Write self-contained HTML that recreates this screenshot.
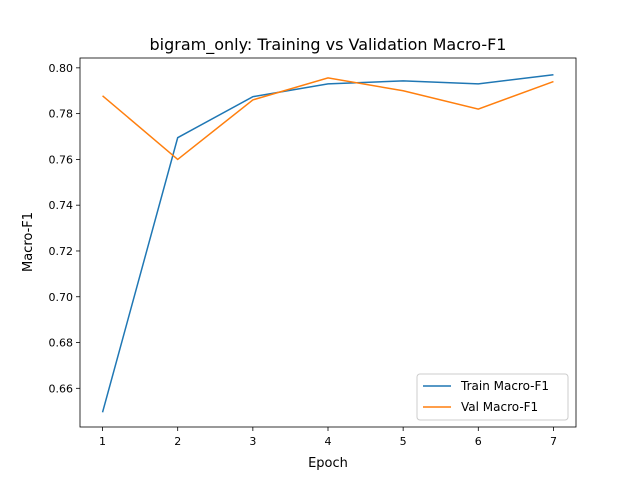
<!DOCTYPE html>
<html><head><meta charset="utf-8"><style>
body{margin:0;background:#fff;font-family:"Liberation Sans","DejaVu Sans",sans-serif}
svg text{font-family:"DejaVu Sans","Liberation Sans",sans-serif}
</style></head><body>
<svg id="chart" width="640" height="480">
<rect width="640" height="480" fill="#fff"/>
<text x="328" y="50" font-size="16" text-anchor="middle">bigram_only: Training vs Validation Macro-F1</text>
<g id="axes"></g>
<text x="328" y="467" font-size="13" text-anchor="middle">Epoch</text>
<text x="0" y="0" font-size="13" text-anchor="middle" transform="translate(32,242) rotate(-90)">Macro-F1</text>
</svg>
<script>
const epochs=[1,2,3,4,5,6,7];
const trainF1=[0.6495,0.7695,0.7874,0.7930,0.7943,0.7930,0.7970];
const valF1=[0.7878,0.7600,0.7860,0.7956,0.7900,0.7820,0.7940];
const yTicks=[0.66,0.68,0.70,0.72,0.74,0.76,0.78,0.80];
const yTickLabels=["0.66","0.68","0.70","0.72","0.74","0.76","0.78","0.80"];
const L=80,R=576,T=58,B=427;
const y0=0.6431,y1=0.8043;
const xMin=epochs[0]-0.3,xMax=epochs[epochs.length-1]+0.3;
const X=v=>L+(v-xMin)/(xMax-xMin)*(R-L);
const Y=v=>B-(v-y0)/(y1-y0)*(B-T);
const NS="http://www.w3.org/2000/svg";
const g=document.getElementById('axes');
function mk(t,a){const e=document.createElementNS(NS,t);for(const k in a)e.setAttribute(k,a[k]);g.appendChild(e);return e;}
epochs.forEach(e=>{
 const t=mk('line',{x1:X(e),x2:X(e),y1:B,y2:B+4,stroke:'#000','stroke-width':0.8});
 
 
 const l=mk('text',{x:X(e),y:B+18,'font-size':11,'text-anchor':'middle'});l.textContent=e;
 
 
});
yTicks.forEach((v,i)=>{
 const t=mk('line',{x1:L-4,x2:L,y1:Y(v),y2:Y(v),stroke:'#000','stroke-width':0.8});
 
 
 const l=mk('text',{x:L-7,y:Y(v)+4,'font-size':11,'text-anchor':'end'});l.textContent=yTickLabels[i];
 
 
});
function line(vals,c,name){
 const p=mk('polyline',{points:vals.map((v,i)=>X(epochs[i])+','+Y(v)).join(' '),fill:'none',stroke:c,'stroke-width':1.5});
 
 
}
line(trainF1,'#1f77b4','train-line');
line(valF1,'#ff7f0e','val-line');
const fr=mk('rect',{x:L,y:T,width:R-L,height:B-T,fill:'none',stroke:'#000','stroke-width':0.8});


const lg=mk('rect',{x:417,y:374,width:151,height:46,rx:3,fill:'#fff',stroke:'#ccc','stroke-width':1});


[['Train Macro-F1','#1f77b4',390],['Val Macro-F1','#ff7f0e',411]].forEach(([t,c,y])=>{
 const s=mk('line',{x1:423,x2:451,y1:y-4,y2:y-4,stroke:c,'stroke-width':1.5});
 
 
 const tx=mk('text',{x:461,y:y,'font-size':12});tx.textContent=t;
 
 
});
</script>
</body></html>
